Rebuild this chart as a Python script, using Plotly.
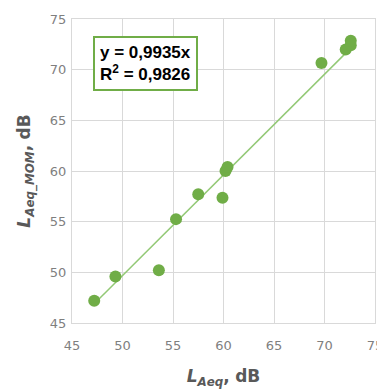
import plotly.graph_objects as go

x_laeq = [47.2, 49.3, 53.6, 55.3, 57.5, 59.9, 60.2, 60.4, 69.7, 72.1, 72.6, 72.6]
y_laeq_mom = [47.2, 49.6, 50.2, 55.25, 57.7, 57.35, 60.0, 60.4, 70.65, 72.0, 72.4, 72.85]
slope = 0.9935
r2_text = "0,9826"
slope_text = "0,9935"
ticks = [45, 50, 55, 60, 65, 70, 75]

green = "#70AD47"
fig = go.Figure()
xl = [min(x_laeq), max(x_laeq)]
fig.add_trace(go.Scatter(x=xl, y=[slope * v for v in xl], mode="lines",
                         line=dict(color="#93C976", width=1.5), hoverinfo="skip", showlegend=False))
fig.add_trace(go.Scatter(x=x_laeq, y=y_laeq_mom, mode="markers",
                         marker=dict(color=green, size=12), showlegend=False))

axis_common = dict(range=[45, 75], tickvals=ticks, showgrid=True, gridcolor="#D9D9D9",
                   gridwidth=1, zeroline=False, showline=True, linecolor="#D9D9D9", linewidth=1,
                   mirror=True, ticks="", automargin=False,
                   tickfont=dict(family="DejaVu Sans", size=13, color="#7F7F7F"))

fig.update_layout(
    width=385, height=391,
    margin=dict(l=64, r=18, t=11, b=76),
    paper_bgcolor="white", plot_bgcolor="white",
    xaxis=dict(**axis_common, ticklabelstandoff=10,
               title=dict(text="<b><i>L<sub>Aeq</sub></i>,</b> <b>dB</b>",
                          font=dict(family="DejaVu Sans", size=17, color="#595959"), standoff=18)),
    yaxis=dict(**axis_common, ticklabelstandoff=2,
               title=dict(text="<b><i>L<sub>Aeq_MOM</sub></i>,</b> <b>dB</b>",
                          font=dict(family="DejaVu Sans", size=17, color="#595959"), standoff=14)),
)
fig.add_annotation(xref="paper", yref="paper", x=0.07, y=0.945, xanchor="left", yanchor="top",
                   text=f"<b>y = {slope_text}x</b><br><b>R<sup>2</sup> = {r2_text}</b>",
                   showarrow=False, align="left", bgcolor="white", bordercolor=green, borderwidth=2,
                   borderpad=5, font=dict(family="Liberation Sans", size=17, color="black"))
fig.write_html("out.html")
